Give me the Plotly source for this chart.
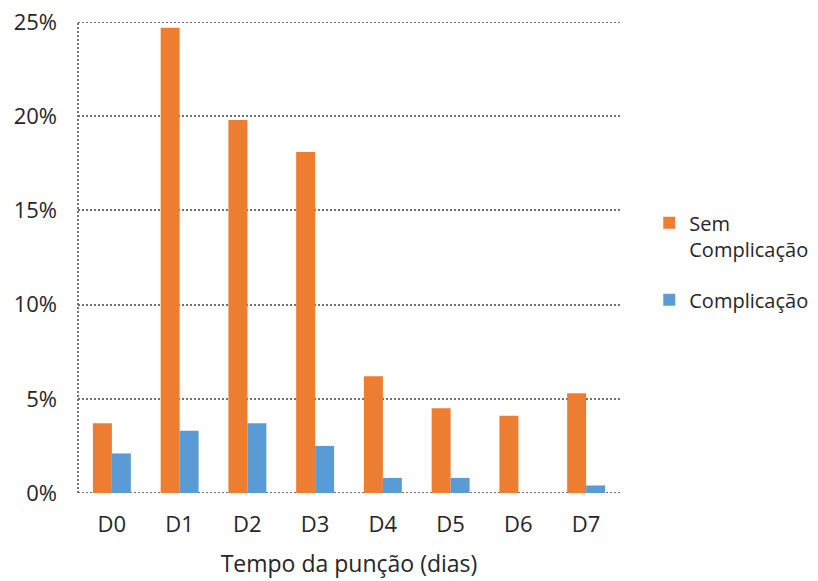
import plotly.graph_objects as go

# Share of punctures by day, in percent
dias = ["D0", "D1", "D2", "D3", "D4", "D5", "D6", "D7"]
sem_complicacao = [3.7, 24.7, 19.8, 18.1, 6.2, 4.5, 4.1, 5.3]
complicacao = [2.1, 3.3, 3.7, 2.5, 0.8, 0.8, 0.0, 0.4]
y_ticks = [0, 5, 10, 15, 20, 25]
y_tick_labels = ["0%", "5%", "10%", "15%", "20%", "25%"]

FONT = "Open Sans"
TXT = "#262626"
GRID = "#707070"
FS = 22

fig = go.Figure()
fig.add_trace(go.Bar(x=dias, y=sem_complicacao, name="Sem<br>Complicação",
                     legendgroup="sem",
                     marker=dict(color="#ED7D31", line=dict(width=0))))
fig.add_trace(go.Bar(x=dias, y=complicacao, name="Complicação",
                     legendgroup="com",
                     marker=dict(color="#5B9BD5", line=dict(width=0))))

fig.update_layout(
    width=818, height=581,
    margin=dict(l=78, r=198, t=22, b=88, autoexpand=False),
    paper_bgcolor="white", plot_bgcolor="white",
    font=dict(family=FONT, size=FS, color=TXT),
    barmode="group", bargap=0.44, bargroupgap=0,
    legend=dict(x=1.054, xanchor="left", y=0.615, yanchor="top",
                valign="top", traceorder="grouped",
                font=dict(size=20, color=TXT),
                tracegroupgap=22, bgcolor="rgba(0,0,0,0)"),
    xaxis=dict(title=dict(text="Tempo da punção (dias)", standoff=18,
                          font=dict(size=23, color=TXT)),
               showgrid=False, showline=False, zeroline=False, ticks="",
               ticklabelstandoff=16, automargin=False),
    yaxis=dict(range=[0, 25], tickvals=y_ticks, ticktext=y_tick_labels,
               showgrid=True, gridcolor=GRID, gridwidth=2, griddash="2px,2px",
               zeroline=False, showline=False, ticks="",
               ticklabelstandoff=20, automargin=False),
)

# dotted frame lines: left edge, zero line and top line
dotted = dict(color=GRID, width=2, dash="2px,2px")
fig.add_shape(type="line", xref="paper", yref="paper", x0=0, x1=0, y0=0, y1=1,
              line=dotted, layer="below")
for yv in (y_ticks[0], y_ticks[-1]):
    fig.add_shape(type="line", xref="paper", yref="y", x0=0, x1=1, y0=yv, y1=yv,
                  line=dotted, layer="below")

fig.write_html("out.html")
